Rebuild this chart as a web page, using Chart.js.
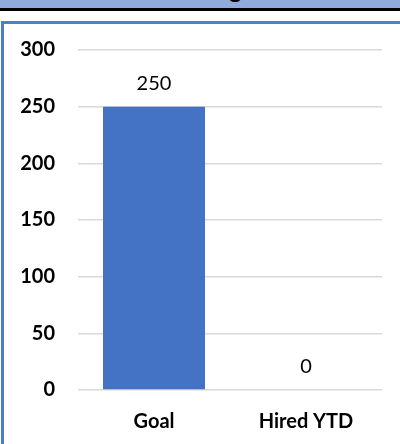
<!DOCTYPE html>
<html>
<head>
<meta charset="utf-8">
<script src="https://cdn.jsdelivr.net/npm/chart.js@4.4.0/dist/chart.umd.min.js"></script>
<style>
  html, body { margin: 0; padding: 0; background: #fff; }
  body { width: 400px; height: 444px; position: relative; overflow: hidden; font-family: Lato, "Liberation Sans", sans-serif; }
  .band { position: absolute; left: 0; top: 0; width: 400px; height: 8px; background: #8faadc; overflow: hidden; }
  .band span { position: absolute; left: 176px; top: -23px; font: bold 24px Lato, sans-serif; color: #000; white-space: nowrap; line-height: 24px; }
  .rule { position: absolute; left: 0; top: 8px; width: 400px; height: 3px; background: #000; }
  .frame { position: absolute; left: 1px; top: 21px; width: 420px; height: 440px; border: 3px solid #4f7ccc; box-sizing: border-box; }
  #chart { position: absolute; left: 0; top: 0; }
</style>
</head>
<body>
<div class="band"><span>Hiring Goal 2023</span></div>
<div class="rule"></div>
<div class="frame"></div>
<canvas id="chart" width="400" height="444"></canvas>
<script>
const categories = ["Goal", "Hired YTD"];
const hires = [250, 0];
const yTicks = [0, 50, 100, 150, 200, 250, 300];

// value printed above each bar
const valueLabels = {
  id: "valueLabels",
  afterDatasetsDraw(chart) {
    const ctx = chart.ctx;
    const meta = chart.getDatasetMeta(0);
    ctx.save();
    ctx.font = "20px Lato, sans-serif";
    ctx.fillStyle = "#000";
    ctx.textAlign = "center";
    ctx.textBaseline = "alphabetic";
    meta.data.forEach((bar, i) => {
      ctx.fillText(String(hires[i]), bar.x, bar.y - 17);
    });
    ctx.restore();
  }
};

new Chart(document.getElementById("chart").getContext("2d"), {
  type: "bar",
  data: {
    labels: categories,
    datasets: [{
      data: hires,
      backgroundColor: "#4472c4",
      borderWidth: 0,
      barPercentage: 0.671,
      categoryPercentage: 1
    }]
  },
  options: {
    responsive: false,
    animation: false,
    layout: { padding: { top: 50, right: 18, bottom: 0, left: 0 } },
    plugins: {
      legend: { display: false },
      tooltip: { enabled: false }
    },
    scales: {
      x: {
        grid: { display: false },
        border: { display: false },
        ticks: {
          color: "#000",
          padding: 12,
          font: { family: "Lato", size: 20, weight: "bold" }
        },
        afterFit(scale) { scale.height = 54; }
      },
      y: {
        min: yTicks[0],
        max: yTicks[yTicks.length - 1],
        afterBuildTicks(scale) { scale.ticks = yTicks.map(v => ({ value: v })); },
        grid: { color: "#d9d9d9", lineWidth: 1.5, drawTicks: false },
        border: { display: false },
        ticks: {
          color: "#000",
          padding: 23,
          font: { family: "Lato", size: 20, weight: "bold" }
        },
        afterFit(scale) { scale.width = 78; }
      }
    }
  },
  plugins: [valueLabels]
});
</script>
</body>
</html>
